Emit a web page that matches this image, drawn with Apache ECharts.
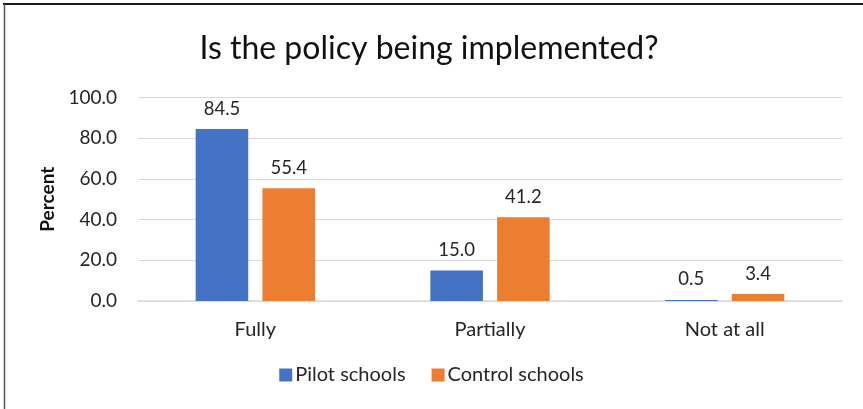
<!DOCTYPE html>
<html>
<head>
<meta charset="utf-8">
<script src="https://cdn.jsdelivr.net/npm/echarts@6/dist/echarts.min.js"></script>
<style>
  html, body { margin: 0; padding: 0; background: #fff; }
  #chart { width: 863px; height: 409px; }
</style>
</head>
<body>
<div id="chart"></div>
<script>
// Survey responses, percent of schools
var categories = ['Fully', 'Partially', 'Not at all'];
var pilotSchools = [84.5, 15.0, 0.5];
var controlSchools = [55.4, 41.2, 3.4];
var yTicks = [0, 20, 40, 60, 80, 100];

var FONT = 'Lato, "Open Sans", sans-serif';
var TEXT = '#262626';

var chart = echarts.init(document.getElementById('chart'), null, { renderer: 'canvas' });

var labelStyle = {
  show: true,
  position: 'top',
  distance: 11,
  fontFamily: FONT,
  fontSize: 18.5,
  color: TEXT,
  formatter: function (p) { return p.value.toFixed(1); }
};

chart.setOption({
  backgroundColor: '#ffffff',
  animation: false,
  title: {
    text: 'Is the policy being implemented?',
    left: 424,
    textAlign: 'center',
    top: 28,
    textStyle: { fontFamily: FONT, fontSize: 32, fontWeight: 'normal', color: '#111' }
  },
  legend: {
    bottom: 19,
    left: 'center',
    itemWidth: 13,
    itemHeight: 13,
    itemGap: 26,
    icon: 'rect',
    textStyle: { fontFamily: FONT, fontSize: 20, color: TEXT, padding: [0, 0, 0, -2] },
    data: ['Pilot schools', 'Control schools']
  },
  grid: { left: 138, right: 21, top: 97.5, bottom: 108 },
  xAxis: {
    type: 'category',
    data: categories,
    axisLine: { show: true, lineStyle: { color: '#d9d9d9', width: 1.5 } },
    axisTick: { show: false },
    axisLabel: { fontFamily: FONT, fontSize: 20, color: TEXT, margin: 19 }
  },
  yAxis: {
    type: 'value',
    min: yTicks[0],
    max: yTicks[yTicks.length - 1],
    interval: 20,
    name: 'Percent',
    nameLocation: 'middle',
    nameGap: 81,
    nameRotate: 90,
    nameTextStyle: { fontFamily: FONT, fontSize: 19, fontWeight: 'bold', color: '#111' },
    axisLine: { show: false },
    axisTick: { show: false },
    splitLine: { lineStyle: { color: '#d9d9d9', width: 1 } },
    axisLabel: {
      fontFamily: FONT, fontSize: 19, color: TEXT, margin: 21,
      formatter: function (v) { return v.toFixed(1); }
    }
  },
  series: [
    {
      name: 'Pilot schools',
      type: 'bar',
      data: pilotSchools,
      barWidth: '22.4%',
      barGap: '27%',
      itemStyle: { color: '#4472c4' },
      label: labelStyle
    },
    {
      name: 'Control schools',
      type: 'bar',
      data: controlSchools,
      barWidth: '22.4%',
      barGap: '27%',
      itemStyle: { color: '#ed7d31' },
      label: labelStyle
    }
  ],
  graphic: [
    { type: 'line', shape: { x1: 3, y1: 4, x2: 863, y2: 4 }, style: { stroke: '#1a1a1a', lineWidth: 2 } },
    { type: 'line', shape: { x1: 4.5, y1: 4, x2: 4.5, y2: 409 }, style: { stroke: '#555', lineWidth: 1.5 } }
  ]
});
</script>
</body>
</html>
